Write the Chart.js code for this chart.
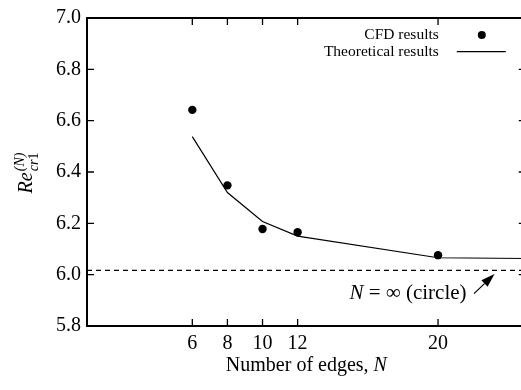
<!DOCTYPE html>
<html>
<head>
<meta charset="utf-8">
<script src="https://cdn.jsdelivr.net/npm/chart.js@4.4.1/dist/chart.umd.min.js"></script>
<style>
    html, body { margin: 0; padding: 0; background: #fff; overflow: hidden; }
    #wrap { width: 530px; height: 390px; }
</style>
</head>
<body>
<div id="wrap"><canvas id="chart" width="530" height="390"></canvas></div>
<script>
// Data
const edgeTicks = [6, 8, 10, 12, 20];
const reTicks = [5.8, 6.0, 6.2, 6.4, 6.6, 6.8, 7.0];

const cfdN = [6, 8, 10, 12, 20];
const cfdRe = [6.642, 6.348, 6.178, 6.165, 6.076];

const theoryN = [6, 8, 10, 12, 20, 25];
const theoryRe = [6.538, 6.320, 6.207, 6.150, 6.066, 6.063];

const circleN = [0, 25];
const circleRe = [6.017, 6.017];

const serif = '"Liberation Serif", "DejaVu Serif", serif';

const toPoints = (xs, ys) => xs.map((v, i) => ({ x: v, y: ys[i] }));

// Box round the plot with inward ticks on all four sides
const framePlugin = {
    id: 'frame',
    afterDraw(chart) {
        const { ctx, chartArea: a, scales: { x, y } } = chart;
        ctx.save();
        ctx.strokeStyle = '#000';
        ctx.lineWidth = 2;
        ctx.strokeRect(a.left, a.top, a.right - a.left, a.bottom - a.top);
        ctx.lineWidth = 1.3;
        ctx.beginPath();
        edgeTicks.forEach(v => {
            const px = x.getPixelForValue(v);
            ctx.moveTo(px, a.bottom); ctx.lineTo(px, a.bottom - 7);
            ctx.moveTo(px, a.top); ctx.lineTo(px, a.top + 7);
        });
        reTicks.forEach(v => {
            const py = y.getPixelForValue(v);
            ctx.moveTo(a.left, py); ctx.lineTo(a.left + 7, py);
            ctx.moveTo(a.right, py); ctx.lineTo(a.right - 7, py);
        });
        ctx.stroke();
        ctx.restore();
    }
};

// Legend: text on the left, symbol on the right
const legendPlugin = {
    id: 'sideLegend',
    afterDraw(chart) {
        const { ctx, chartArea: a } = chart;
        const items = chart.data.datasets.filter(d => d.label);
        ctx.save();
        ctx.font = '15.5px ' + serif;
        ctx.textAlign = 'right';
        ctx.textBaseline = 'middle';
        ctx.fillStyle = '#000';
        ctx.strokeStyle = '#000';
        items.forEach((d, i) => {
            const yy = a.top + 17 + i * 16.6;
            const tx = a.right - 87;
            ctx.fillText(d.label, tx, yy);
            if (d.showLine) {
                ctx.lineWidth = 1.3;
                ctx.beginPath();
                ctx.moveTo(tx + 18, yy);
                ctx.lineTo(tx + 67, yy);
                ctx.stroke();
            } else {
                ctx.beginPath();
                ctx.arc(tx + 43, yy, 4, 0, Math.PI * 2);
                ctx.fill();
            }
        });
        ctx.restore();
    }
};

// Axis titles and the N = infinity note
const labelsPlugin = {
    id: 'labels',
    afterDraw(chart) {
        const { ctx, chartArea: a, scales: { x, y } } = chart;
        ctx.save();
        ctx.fillStyle = '#000';
        ctx.strokeStyle = '#000';

        // x title
        ctx.textBaseline = 'middle';
        ctx.textAlign = 'left';
        ctx.font = '20px ' + serif;
        const part1 = 'Number of edges, ';
        const w1 = ctx.measureText(part1).width;
        ctx.font = 'italic 20px ' + serif;
        const w2 = ctx.measureText('N').width;
        let sx = (a.left + a.right) / 2 - (w1 + w2) / 2;
        ctx.font = '20px ' + serif;
        ctx.fillText(part1, sx, 366);
        ctx.font = 'italic 20px ' + serif;
        ctx.fillText('N', sx + w1, 366);

        // y title: Re with sub cr1 and sup (N), rotated
        ctx.save();
        ctx.font = 'italic 20px ' + serif;
        const wRe = ctx.measureText('Re').width;
        ctx.font = 'italic 14px ' + serif;
        const wCr = ctx.measureText('cr').width;
        ctx.font = '14px ' + serif;
        const wOne = ctx.measureText('1').width;
        const total = wRe + 1 + wCr + wOne;
        const cy = (a.top + a.bottom) / 2 + 1;
        ctx.translate(32, cy + total / 2);
        ctx.rotate(-Math.PI / 2);
        ctx.textBaseline = 'alphabetic';
        ctx.font = 'italic 20px ' + serif;
        ctx.fillText('Re', 0, 0);
        ctx.font = 'italic 14px ' + serif;
        ctx.fillText('(N)', wRe + 1, -8);
        ctx.fillText('cr', wRe + 1, 6);
        ctx.font = '14px ' + serif;
        ctx.fillText('1', wRe + 1 + wCr, 6);
        ctx.restore();

        // note: N = ∞ (circle)
        const nx = x.getPixelForValue(14.95);
        const ny = y.getPixelForValue(5.925);
        ctx.textAlign = 'left';
        ctx.textBaseline = 'middle';
        ctx.font = 'italic 21px ' + serif;
        ctx.fillText('N', nx, ny);
        const wn = ctx.measureText('N').width;
        ctx.font = '21px ' + serif;
        ctx.fillText(' = ∞ (circle)', nx + wn, ny);

        // arrow to the dashed line
        const x0 = x.getPixelForValue(22.05), y0 = y.getPixelForValue(5.926);
        const x1 = x.getPixelForValue(23.22), y1 = y.getPixelForValue(6.003);
        const ang = Math.atan2(y1 - y0, x1 - x0);
        const hl = 14, hw = 4.5;
        const bx = x1 - hl * Math.cos(ang), by = y1 - hl * Math.sin(ang);
        ctx.lineWidth = 1.2;
        ctx.beginPath();
        ctx.moveTo(x0, y0);
        ctx.lineTo(bx, by);
        ctx.stroke();
        ctx.beginPath();
        ctx.moveTo(x1, y1);
        ctx.lineTo(bx + hw * Math.sin(ang), by - hw * Math.cos(ang));
        ctx.lineTo(bx - hw * Math.sin(ang), by + hw * Math.cos(ang));
        ctx.closePath();
        ctx.fill();

        ctx.restore();
    }
};

const ctx = document.getElementById('chart').getContext('2d');

new Chart(ctx, {
    type: 'scatter',
    data: {
        datasets: [
            {
                label: 'CFD results',
                data: toPoints(cfdN, cfdRe),
                showLine: false,
                pointRadius: 4.2,
                pointBorderWidth: 0,
                backgroundColor: '#000',
                borderColor: '#000'
            },
            {
                label: 'Theoretical results',
                data: toPoints(theoryN, theoryRe),
                showLine: true,
                borderColor: '#000',
                borderWidth: 1.2,
                pointRadius: 0,
                tension: 0
            },
            {
                label: '',
                data: toPoints(circleN, circleRe),
                showLine: true,
                borderColor: '#000',
                borderWidth: 1.2,
                borderDash: [5, 4],
                pointRadius: 0
            }
        ]
    },
    options: {
        responsive: false,
        animation: false,
        devicePixelRatio: 1,
        layout: { padding: { top: 10, right: 2, left: 0, bottom: 0 } },
        plugins: {
            legend: { display: false },
            tooltip: { enabled: false }
        },
        scales: {
            x: {
                type: 'linear',
                min: 0,
                max: 25,
                afterBuildTicks: s => { s.ticks = edgeTicks.map(v => ({ value: v })); },
                afterFit: s => { s.height = 64; },
                grid: { display: false, drawTicks: false },
                border: { display: false },
                ticks: {
                    color: '#000',
                    font: { family: serif, size: 20 },
                    padding: 6,
                    maxRotation: 0,
                    autoSkip: false
                }
            },
            y: {
                type: 'linear',
                min: 5.8,
                max: 7.0,
                afterBuildTicks: s => { s.ticks = reTicks.map(v => ({ value: v })); },
                afterFit: s => { s.width = 87; },
                grid: { display: false, drawTicks: false },
                border: { display: false },
                ticks: {
                    color: '#000',
                    font: { family: serif, size: 20 },
                    padding: 6,
                    autoSkip: false,
                    callback: v => v.toFixed(1)
                }
            }
        }
    },
    plugins: [framePlugin, legendPlugin, labelsPlugin]
});
</script>
</body>
</html>
